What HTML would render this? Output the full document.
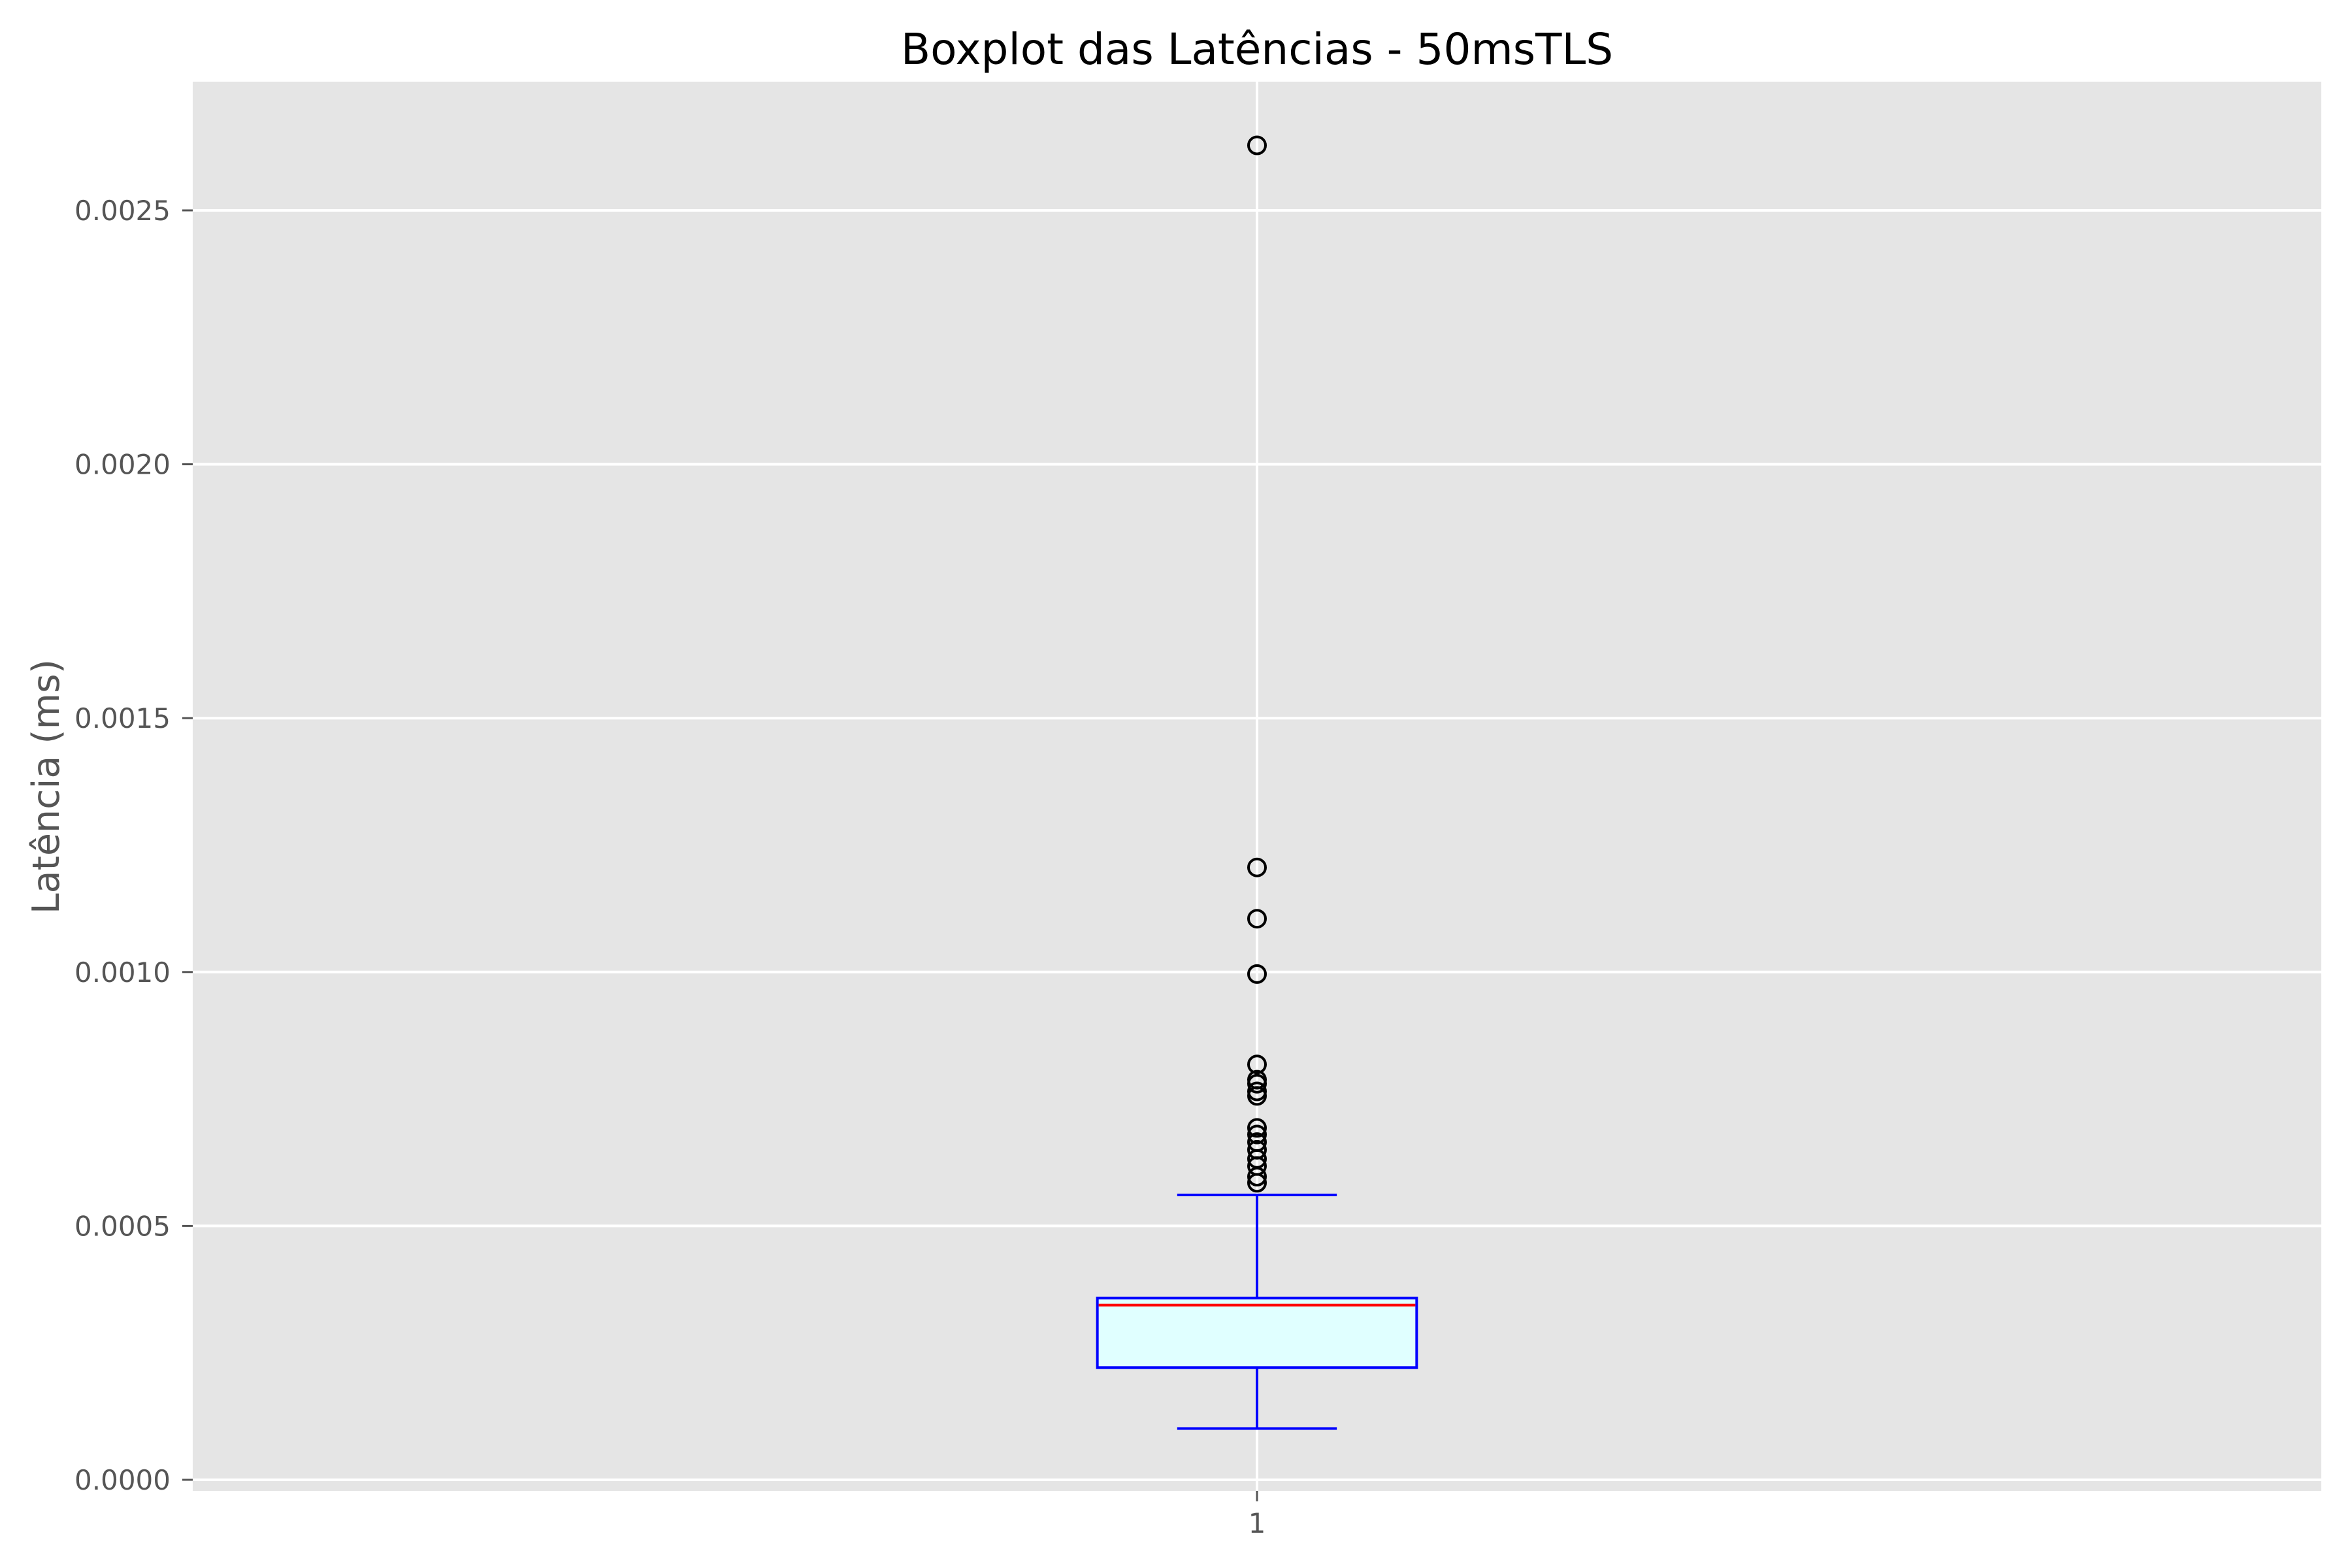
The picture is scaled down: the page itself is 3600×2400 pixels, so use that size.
<!DOCTYPE html>
<html><head><meta charset="utf-8"><style>
html,body{margin:0;padding:0;background:#fff}
svg{display:block}
text{font-family:"DejaVu Sans","Liberation Sans",sans-serif}
</style></head><body>
<svg id="chart" width="3600" height="2400" viewBox="0 0 3600 2400" xmlns="http://www.w3.org/2000/svg">
<rect x="0" y="0" width="3600" height="2400" fill="#fff"/>
<rect x="295" y="125" width="3258" height="2157" fill="#e5e5e5"/>
<g id="grid"></g>
<g id="axes"></g>
<g id="marks"></g>
<text x="1924" y="98" font-size="66" text-anchor="middle" fill="#000">Boxplot das Latências - 50msTLS</text>
<text x="0" y="0" font-size="57" text-anchor="middle" fill="#555" transform="translate(90,1204) rotate(-90)">Latência (ms)</text>
</svg>
<script>
const categories = ["1"];
const q1Values = [0.000221];
const medianValues = [0.000344];
const q3Values = [0.000358];
const whiskerLow = [0.000101];
const whiskerHigh = [0.000561];
const outlierValues = [0.002628,0.001206,0.001105,0.000996,0.000818,0.000788,0.000780,0.000765,0.000756,0.000693,0.000680,0.000665,0.000650,0.000632,0.000618,0.000597,0.000585];
const yTicks = [0, 0.0005, 0.001, 0.0015, 0.002, 0.0025];
const yTickLabels = ["0.0000","0.0005","0.0010","0.0015","0.0020","0.0025"];

const NS = "http://www.w3.org/2000/svg";
const L = 295, R = 3553, T = 125, B = 2282;
const Y0 = 2265, PX_PER_UNIT = 388.6 / 0.0005;
function yScale(v){ return Y0 - v * PX_PER_UNIT; }
function xScale(i){ const lo = 0.5, hi = categories.length + 0.5; return L + ((i + 1) - lo) / (hi - lo) * (R - L); }
function mk(tag, attrs, parent){ const e = document.createElementNS(NS, tag); for (const k in attrs) e.setAttribute(k, attrs[k]); parent.appendChild(e); return e; }

const grid = document.getElementById('grid');
const axes = document.getElementById('axes');
const marks = document.getElementById('marks');

yTicks.forEach((v, i) => {
  const y = yScale(v);
  const g = mk('line', {x1: L, x2: R, y1: y, y2: y, stroke: '#fff', 'stroke-width': 4}, grid);
  
  
  const t = mk('line', {x1: L - 16, x2: L, y1: y, y2: y, stroke: '#555', 'stroke-width': 3}, axes);
  
  
  const lb = mk('text', {x: 261, y: y + 15, 'font-size': 42, 'text-anchor': 'end', fill: '#555'}, axes);
  lb.textContent = yTickLabels[i];
  
  
});

categories.forEach((c, i) => {
  const x = xScale(i);
  const g = mk('line', {x1: x, x2: x, y1: T, y2: B, stroke: '#fff', 'stroke-width': 4}, grid);
  
  
  const t = mk('line', {x1: x, x2: x, y1: B, y2: B + 16, stroke: '#555', 'stroke-width': 3}, axes);
  
  
  const lb = mk('text', {x: x, y: B + 64, 'font-size': 42, 'text-anchor': 'middle', fill: '#555'}, axes);
  lb.textContent = c;
  
  

  const span = (R - L) / categories.length;
  const halfBox = span * 0.075, halfCap = span * 0.0375;
  const yq1 = yScale(q1Values[i]), yq3 = yScale(q3Values[i]), ymed = yScale(medianValues[i]);
  const ylo = yScale(whiskerLow[i]), yhi = yScale(whiskerHigh[i]);

  const wl = mk('line', {x1: x, x2: x, y1: yq1, y2: ylo, stroke: '#0000ff', 'stroke-width': 4}, marks);
  
  
  const wh = mk('line', {x1: x, x2: x, y1: yq3, y2: yhi, stroke: '#0000ff', 'stroke-width': 4}, marks);
  
  
  const cl = mk('line', {x1: x - halfCap, x2: x + halfCap, y1: ylo, y2: ylo, stroke: '#0000ff', 'stroke-width': 4}, marks);
  
  
  const ch = mk('line', {x1: x - halfCap, x2: x + halfCap, y1: yhi, y2: yhi, stroke: '#0000ff', 'stroke-width': 4}, marks);
  
  
  const box = mk('rect', {x: x - halfBox, y: yq3, width: 2 * halfBox, height: yq1 - yq3, fill: '#e0ffff', stroke: '#0000ff', 'stroke-width': 4}, marks);
  
  
  const med = mk('line', {x1: x - halfBox + 2, x2: x + halfBox - 2, y1: ymed, y2: ymed, stroke: '#ff0000', 'stroke-width': 4}, marks);
  
  

  outlierValues.forEach(v => {
    const o = mk('circle', {cx: x, cy: yScale(v), r: 13, fill: 'none', stroke: '#000', 'stroke-width': 4}, marks);
    
    
  });
});
</script>
</body></html>
